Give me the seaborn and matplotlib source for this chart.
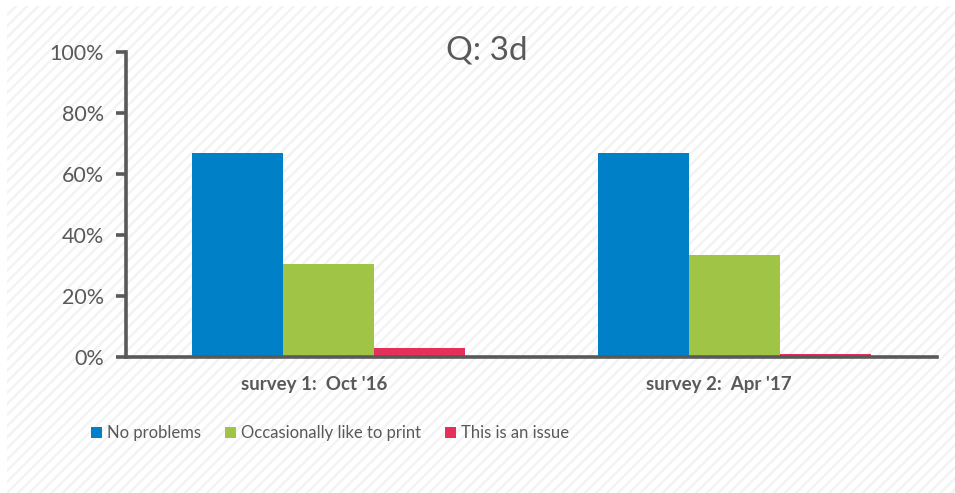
import matplotlib
matplotlib.use("Agg")
import matplotlib.pyplot as plt
import matplotlib.transforms as mtransforms
from matplotlib.patches import Rectangle
import pandas as pd
import seaborn as sns

# Survey responses (share of respondents)
surveys = ["survey 1:  Oct '16", "survey 2:  Apr '17"]
responses = ["No problems", "Occasionally like to print", "This is an issue"]
no_problems = [0.67, 0.67]
occasionally_print = [0.305, 0.335]
is_issue = [0.03, 0.011]
y_ticks = [0.0, 0.2, 0.4, 0.6, 0.8, 1.0]
y_tick_labels = ["0%", "20%", "40%", "60%", "80%", "100%"]
title = "Q: 3d"

palette = {"No problems": "#0080C6",
           "Occasionally like to print": "#A0C546",
           "This is an issue": "#E5305C"}

rows = []
for series, vals in zip(responses, [no_problems, occasionally_print, is_issue]):
    for s, v in zip(surveys, vals):
        rows.append({"survey": s, "response": series, "share": v})
df = pd.DataFrame(rows)

sns.set_theme(style="white")
plt.rcParams["font.family"] = ["Lato", "DejaVu Sans"]
plt.rcParams["hatch.linewidth"] = 1.8

W, H = 955, 493
fig = plt.figure(figsize=(W / 100, H / 100), dpi=100)
fig.patch.set_facecolor("white")

# light diagonal texture behind the chart
bg = Rectangle((7 / W, -0.01), 1.01 - 7 / W, 1.01 - 6 / H, transform=fig.transFigure,
               facecolor="white", edgecolor="#f3f3f3", linewidth=0,
               hatch="///", zorder=-10)
fig.patches.append(bg)

ax = fig.add_axes([126 / W, (H - 357) / H, 811 / W, 305 / H])
ax.set_facecolor("none")

sns.barplot(data=df, x="survey", y="share", hue="response", order=surveys,
            hue_order=responses, palette=palette, width=0.673, gap=0,
            saturation=1, ax=ax, legend=True, edgecolor="none")

ax.set_xlim(-0.5, 1.5)
ax.set_ylim(0, 1.0)
ax.set_yticks(y_ticks)
ax.set_yticklabels(y_tick_labels)
ax.set_xlabel("")
ax.set_ylabel("")

text_color = "#595959"
for side in ["top", "right"]:
    ax.spines[side].set_visible(False)
for side in ["left", "bottom"]:
    ax.spines[side].set_color(text_color)
    ax.spines[side].set_linewidth(2.6)
ax.spines["left"].set_bounds(0, 1.0)

ax.tick_params(axis="y", which="major", length=7, width=2.6, color=text_color,
               labelsize=15.5, labelcolor=text_color, pad=9, left=True)
ax.tick_params(axis="x", length=0, pad=14, labelsize=13.5, labelcolor=text_color)
shift = mtransforms.ScaledTranslation(-15 / 100, 0, fig.dpi_scale_trans)
for lbl in ax.get_xticklabels():
    lbl.set_fontweight("bold")
    lbl.set_transform(lbl.get_transform() + shift)

fig.text(487 / W, (H - 50) / H, title, ha="center", va="center",
         fontsize=24, color=text_color)

handles, labels = ax.get_legend_handles_labels()
ax.get_legend().remove()
leg = fig.legend(handles, labels, loc="center left",
                 bbox_to_anchor=(91 / W, (H - 433) / H), ncol=3, frameon=False,
                 fontsize=12.0, handlelength=0.66, handleheight=0.66,
                 handletextpad=0.3, columnspacing=1.45, borderpad=0,
                 borderaxespad=0, labelcolor=text_color)

fig.savefig("out.png", dpi=100, facecolor=fig.get_facecolor())
